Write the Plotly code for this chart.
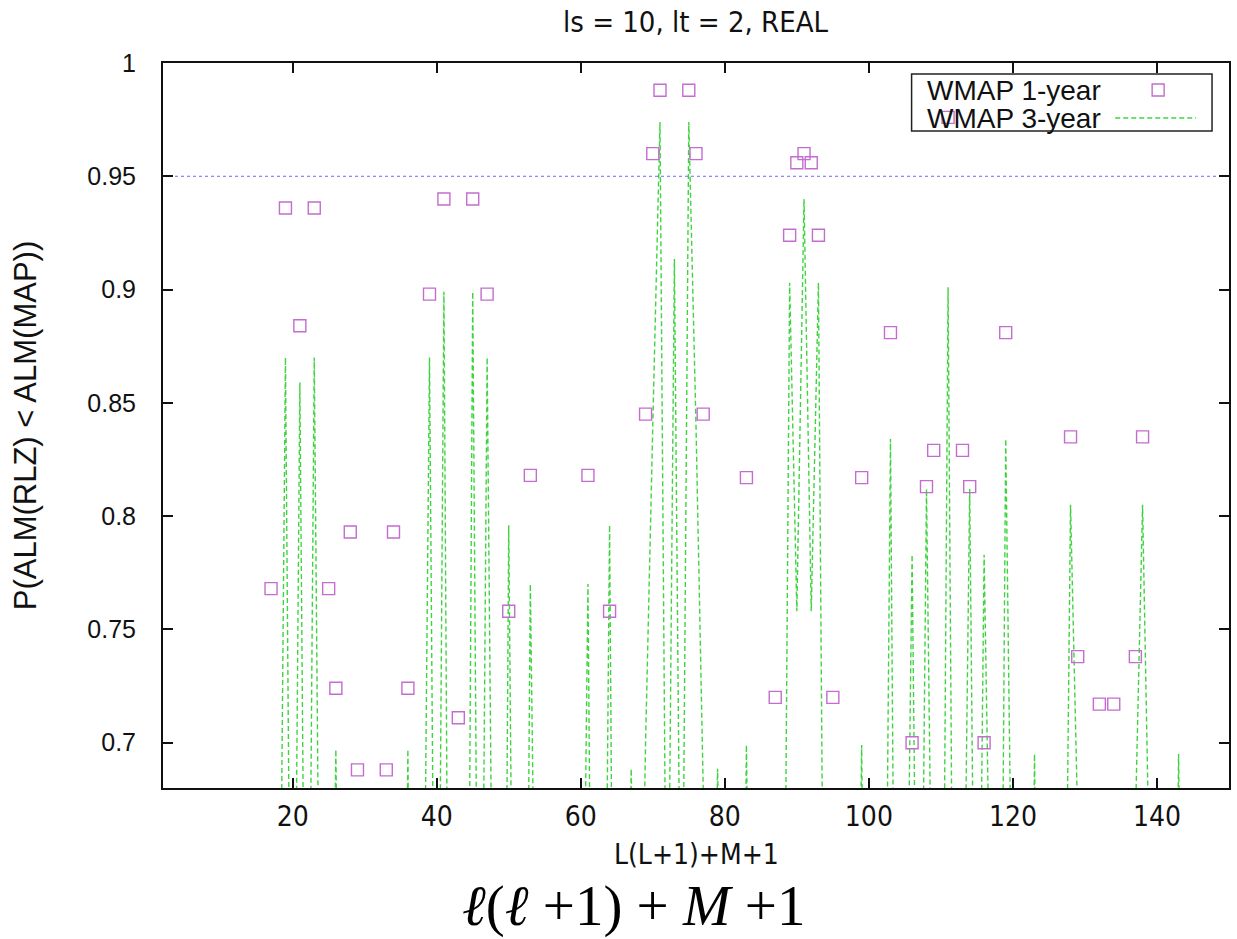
import plotly.graph_objects as go

# ---------------- data ----------------
# WMAP 1-year (open squares), visible points
x1 = [17, 19, 21, 23, 25, 26, 28, 29, 33, 34, 36,
      39, 41, 43, 45, 47, 50, 53, 61, 64,
      69, 70, 71, 75, 76, 77,
      83, 87, 89, 90, 91, 92, 93, 95, 99,
      103, 106, 108, 109, 111, 113, 114, 116, 119,
      128, 129, 132, 134, 137, 138]
y1 = [0.768, 0.936, 0.884, 0.936, 0.768, 0.724, 0.793, 0.688, 0.688, 0.793, 0.724,
      0.898, 0.940, 0.711, 0.940, 0.898, 0.758, 0.818, 0.818, 0.758,
      0.845, 0.960, 0.988, 0.988, 0.960, 0.845,
      0.817, 0.720, 0.924, 0.956, 0.960, 0.956, 0.924, 0.720, 0.817,
      0.881, 0.700, 0.813, 0.829, 0.976, 0.829, 0.813, 0.700, 0.881,
      0.835, 0.738, 0.717, 0.717, 0.738, 0.835]

# WMAP 3-year (dashed line), index L(L+1)+M+1 = 1..144
x3 = list(range(1, 145))
y3 = [0.30,
      0.41, 0.22, 0.41,
      0.35, 0.52, 0.18, 0.52, 0.35,
      0.47, 0.29, 0.56, 0.38, 0.56, 0.29, 0.47,
      0.44, 0.50, 0.870, 0.46, 0.859, 0.46, 0.870, 0.50, 0.44,
      0.697, 0.40, 0.33, 0.55, 0.24, 0.48, 0.24, 0.55, 0.33, 0.40, 0.697,
      0.31, 0.52, 0.870, 0.45, 0.899, 0.37, 0.58, 0.37, 0.899, 0.45, 0.870, 0.52, 0.31,
      0.796, 0.43, 0.36, 0.770, 0.49, 0.27, 0.41, 0.53, 0.41, 0.27, 0.49, 0.770, 0.36, 0.43, 0.796,
      0.34, 0.47, 0.6885, 0.52, 0.70, 0.84, 0.974, 0.55, 0.9135, 0.55, 0.974, 0.84, 0.70, 0.52, 0.6885, 0.47, 0.34,
      0.38, 0.699, 0.45, 0.30, 0.42, 0.51, 0.47, 0.903, 0.758, 0.940, 0.758, 0.903, 0.47, 0.51, 0.42, 0.30, 0.45, 0.699, 0.38,
      0.33, 0.46, 0.834, 0.40, 0.52, 0.783, 0.48, 0.812, 0.55, 0.44, 0.901, 0.44, 0.55, 0.812, 0.48, 0.783, 0.52, 0.40, 0.834, 0.46, 0.33,
      0.41, 0.695, 0.37, 0.29, 0.45, 0.50, 0.805, 0.665, 0.32, 0.43, 0.26, 0.48, 0.26, 0.43, 0.32, 0.665, 0.805, 0.50, 0.45, 0.29, 0.37, 0.695, 0.41]

threshold = 0.95
x_ticks = [20, 40, 60, 80, 100, 120, 140]
y_ticks = [0.7, 0.75, 0.8, 0.85, 0.9, 0.95, 1.0]
y_tick_text = ["0.7", "0.75", "0.8", "0.85", "0.9", "0.95", "1"]

title_text = "ls = 10, lt = 2, REAL"
xlabel = "L(L+1)+M+1"
ylabel = "P(ALM(RLZ) &lt; ALM(MAP))"
names = ["WMAP 1-year", "WMAP 3-year"]

# ---------------- styling ----------------
W, H = 1237, 939
ML, MR, MT, MB = 163, 6, 63, 151
PW, PH = W - ML - MR, H - MT - MB
SQ_COLOR = "#c46ccf"
GR_COLOR = "#3fd43f"
BL_COLOR = "#6a6aff"
SANS = "Liberation Sans, Arial, Helvetica, sans-serif"
NARROW = "Liberation Sans Narrow, DejaVu Sans Condensed, Liberation Sans, sans-serif"


def px(xp):
    return (xp - ML) / PW


def py(yp):
    return (H - MB - yp) / PH


fig = go.Figure()
fig.add_trace(go.Scatter(x=x3, y=y3, mode="lines", name=names[1],
                         line=dict(color=GR_COLOR, width=1.4, dash="5px,3px"),
                         showlegend=False))
fig.add_trace(go.Scatter(x=x1, y=y1, mode="markers", name=names[0],
                         marker=dict(symbol="square-open", size=12, color=SQ_COLOR,
                                     line=dict(width=1.4, color=SQ_COLOR)),
                         showlegend=False))

shapes = [
    dict(type="line", xref="paper", yref="y", x0=0, x1=1, y0=threshold, y1=threshold,
         line=dict(color=BL_COLOR, width=1, dash="3px,3px"), layer="below"),
    # legend box
    dict(type="rect", xref="paper", yref="paper", x0=px(913), x1=px(1214), y0=py(131), y1=py(74),
         line=dict(color="#222", width=1.5)),
    # legend samples
    dict(type="rect", xref="paper", yref="paper", x0=px(1154), x1=px(1166), y0=py(96), y1=py(84),
         line=dict(color=SQ_COLOR, width=1.4)),
    dict(type="line", xref="paper", yref="paper", x0=px(1117), x1=px(1198), y0=py(118), y1=py(118),
         line=dict(color=GR_COLOR, width=1.4, dash="5px,3px")),
]

annotations = [
    dict(text=names[0], xref="paper", yref="paper", x=px(926), y=py(90), xanchor="left", yanchor="middle",
         showarrow=False, font=dict(family=SANS, size=28, color="#111")),
    dict(text=names[1], xref="paper", yref="paper", x=px(926), y=py(118), xanchor="left", yanchor="middle",
         showarrow=False, font=dict(family=SANS, size=28, color="#111")),
    dict(text=title_text, xref="paper", yref="paper", x=px(697), y=py(22), xanchor="center", yanchor="middle",
         showarrow=False, font=dict(family=NARROW, size=29, color="#111")),
    dict(text=xlabel, xref="paper", yref="paper", x=px(698), y=py(854), xanchor="center", yanchor="middle",
         showarrow=False, font=dict(family=NARROW, size=28, color="#111")),
    dict(text=ylabel, xref="paper", yref="paper", x=px(25), y=py(426), xanchor="center", yanchor="middle",
         textangle=-90, showarrow=False, font=dict(family=SANS, size=31, color="#111")),
    dict(text="<i>ℓ</i>(<i>ℓ</i> +1) + <i>M</i> +1", xref="paper", yref="paper", x=px(634), y=py(906),
         xanchor="center", yanchor="middle", showarrow=False,
         font=dict(family="Liberation Serif, Times New Roman, serif", size=57, color="#000")),
]

fig.update_layout(
    width=W, height=H,
    margin=dict(l=ML, r=MR, t=MT, b=MB, pad=0),
    paper_bgcolor="white", plot_bgcolor="white",
    showlegend=False,
    shapes=shapes, annotations=annotations,
    xaxis=dict(range=[2, 150], tickvals=x_ticks, ticks="inside", ticklen=10, tickwidth=2,
               tickcolor="#111", showline=True, linecolor="#111", linewidth=2, mirror="ticks",
               showgrid=False, zeroline=False, ticklabelstandoff=2,
               tickfont=dict(family=NARROW, size=28, color="#111")),
    yaxis=dict(range=[0.68, 1.0], tickvals=y_ticks, ticktext=y_tick_text, ticks="inside",
               ticklen=10, tickwidth=2, tickcolor="#111", showline=True, linecolor="#111",
               linewidth=2, mirror="ticks", showgrid=False, zeroline=False, ticklabelstandoff=20,
               tickfont=dict(family=SANS, size=25, color="#111")),
)

fig.write_html("out.html")
